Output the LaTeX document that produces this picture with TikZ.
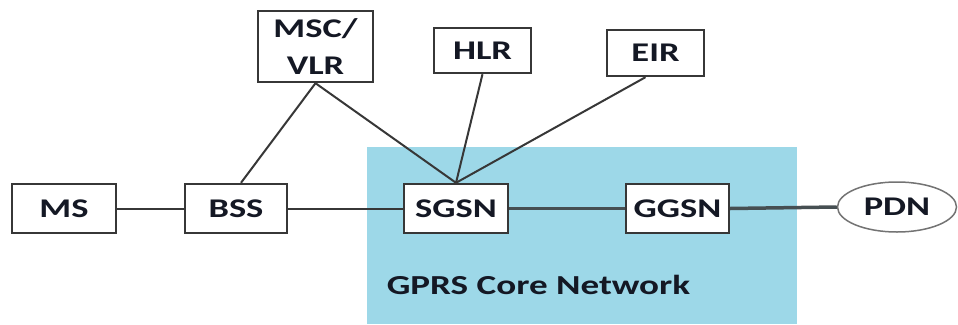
\documentclass[tikz,border=0pt]{standalone}
\usepackage{fontspec}
\setmainfont{Carlito}[FakeStretch=1.35]
\usetikzlibrary{shapes.geometric, positioning, calc}
\definecolor{coreblue}{RGB}{157,216,232}
\definecolor{edgegray}{RGB}{55,55,55}
\definecolor{labeldark}{RGB}{20,24,36}
\tikzset{
    box/.style={rectangle, draw=edgegray, fill=white, line width=2.4pt, inner sep=0pt,
                text=labeldark, align=center, font=\fontsize{27}{36}\selectfont\bfseries},
    cloud/.style={ellipse, draw=edgegray!70, fill=white, line width=1.5pt, inner sep=0pt,
                  text=labeldark, font=\fontsize{27}{36}\selectfont\bfseries},
    link/.style={line width=2pt, edgegray},
    corelink/.style={line width=3.5pt, edgegray!85!coreblue}
}

\begin{document}
\begin{tikzpicture}[x=1pt, y=-1pt]
    \useasboundingbox (0,0) rectangle (958,324);

    % GPRS core area
    \fill[coreblue] (367,147) rectangle (797,324);
    \node[text=labeldark, font=\fontsize{27.5}{36}\selectfont\bfseries] (corelabel) at (538.5,285) {GPRS Core Network};

    % Boxes
    \node[box, minimum width=104, minimum height=49] (ms) at (64,208.5) {MS};
    \node[box, minimum width=102, minimum height=49] (bss) at (236,208.5) {BSS};
    \node[box, minimum width=115, minimum height=71, text depth=0pt, yshift=0pt] (msc) at (315.5,46.5) {MSC/\\[1pt]VLR};
    \node[box, minimum width=97, minimum height=45] (hlr) at (482.5,50.5) {HLR};
    \node[box, minimum width=97, minimum height=46] (eir) at (655.5,53) {EIR};
    \node[box, minimum width=104, minimum height=49] (sgsn) at (456,208.5) {SGSN};
    \node[box, minimum width=103, minimum height=49] (ggsn) at (677.5,208.5) {GGSN};
    \node[cloud, minimum width=119, minimum height=50] (pdn) at (897,207) {PDN};

    % Links
    \draw[link] (ms.east) -- (bss.west);
    \draw[link] (bss.east) -- (sgsn.west);
    \draw[link] ($(bss.north)+(5,0)$) -- (msc.south);
    \draw[link] (msc.south) -- (sgsn.north);
    \draw[link] (hlr.south) -- (sgsn.north);
    \draw[link] ($(eir.south)+(-10,0)$) -- (sgsn.north);
    \draw[corelink] (sgsn.east) -- (ggsn.west);
    \draw[corelink] (ggsn.east) -- (pdn.west);
\end{tikzpicture}
\end{document}
